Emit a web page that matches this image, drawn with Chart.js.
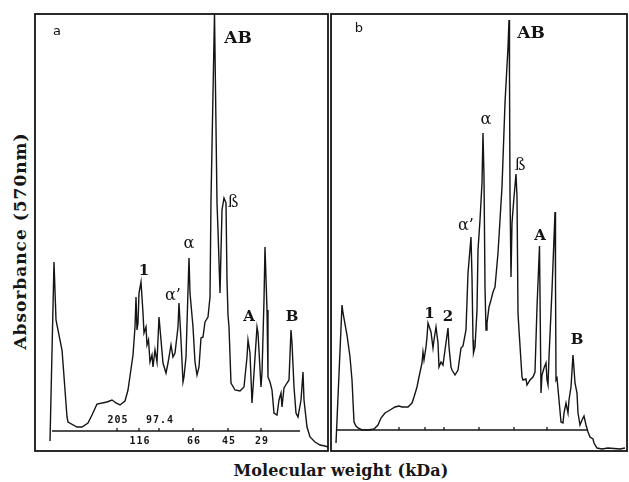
<!DOCTYPE html>
<html><head><meta charset="utf-8">
<script src="https://cdn.jsdelivr.net/npm/chart.js@4/dist/chart.umd.min.js"></script>
<style>
html,body{margin:0;padding:0;background:#fff;}
#wrap{position:relative;width:629px;height:482px;overflow:hidden;background:#fff;}
canvas{position:absolute;}
#ca{left:34px;top:13px;}
#cb{left:330px;top:13px;}
.ttl{position:absolute;font-family:"DejaVu Serif",serif;font-weight:bold;color:#161616;white-space:nowrap;}
#ytitle{left:20px;top:241px;font-size:17px;letter-spacing:1px;transform:translate(-50%,-50%) rotate(-90deg);}
#xtitle{left:341px;top:470px;font-size:16px;letter-spacing:0.1px;transform:translate(-50%,-50%);}
</style>
</head><body>
<div id="wrap">
<canvas id="ca" width="295" height="439"></canvas>
<canvas id="cb" width="298" height="439"></canvas>
<div class="ttl" id="ytitle">Absorbance (570nm)</div>
<div class="ttl" id="xtitle">Molecular weight (kDa)</div>
</div>
<script>
// ---- Panel a : densitometric scan (migration distance vs absorbance, arbitrary units)
const aDistance = [15,19,21,27,28,32,33,42,47,53,57,62,72,77,81,85,90,93,97,98,100,101,102,103,104,106,108,109,111,112,113.5,115,117,118,120,122,124,126,128,131,133,136,138,140,143,144,146,148,149,151,154,155,158,160,162,164,166,168,170,173,175,176,179.5,182,183,185,187,189,191,192,193,194,196,200,205,209,212,213,215,217,219,222,223,226,227,229,230,232,233,235,237,239,242,244,246,247,249,252,254,256,257,259,261,263,266,268,269,272,275,280,285,290,293];
const aAbsorbance = [10,189,131,101,88,34,29,24,24,28,36,47,49,51,48,46,50,61,89,96,124,154,121,128,158,169,138,118,124,106,111,89,96,84,101,89,134,111,88,78,88,106,94,98,124,148,111,69,74,94,193,158,124,89,76,84,113,114,129,134,154,251,438,248,221,158,241,253,248,171,136,124,68,61,60,64,94,111,98,48,78,124,118,64,78,151,204,141,74,69,61,38,36,51,58,44,63,68,71,121,108,64,38,34,51,79,51,24,14,9,6,5,4];
// ---- Panel b
const bDistance = [5,11,12,16,19,21,23,25,27,31,37,43,47,50,54,59,64,68,71,77,81,83,86,88,91,92,93,95,96,97,100,102,103,105,107,108,110,112,114,117,118,120,121,124,127,130,132,135,137,140,141,142,142.5,144,146,147,149,151,152,153,154,155,156,158,160,162,164,167,171,174,177,178,178.5,179,180,181,183,185,186,187,188,191,192,195,196,199,202,204,206,208.5,210,211,213,215,216,217,218,221,224,224.5,225,226,228,230,232,233,235,237,238,240,242,244,246,247,249,251,253,255,257,259,262,263,266,271,277,289,294];
const bAbsorbance = [8,146,138,116,94,71,29,25,23,21,21,22,26,33,38,41,44,45,44,44,48,54,64,74,88,99,91,104,114,128,119,103,111,124,108,84,89,86,101,123,104,84,81,76,81,103,105,121,178,214,174,111,98,104,141,201,231,268,318,274,164,121,128,144,151,159,164,198,264,348,404,431,374,258,174,228,254,277,254,138,121,74,71,72,66,71,74,79,144,205,58,76,83,88,71,66,94,161,239,171,71,73,51,29,28,38,48,38,51,64,96,68,58,38,26,31,35,26,19,14,12,8,3,2,3,2,3];

// ---- Molecular-weight markers (kDa) and their migration distance
const markerKDa = ['205','116','97.4','66','45','29'];
const markerDistanceA = [82,104,124,158,193,226];
const markerDistanceB = [68,94,113,148,183,216];
const baselineA = [17,265];   // start / end distance of the marker scale line
const baselineB = [6,256];
const baselineLevelA = 20, baselineLevelB = 21;

// ---- Band names
const peakNamesA = ['1','α’','α','AB','ß','A','B'];
const peakXA = [109,138,154,203,198,214,257];
const peakYA = [180,155,207,412,248,134,134];
const peakNamesB = ['1','2','α’','α','AB','ß','A','B'];
const peakXB = [98.5,117,135,155,200,189,209,246];
const peakYB = [137,134,225,331,417,285,215,111];

const INK = '#141414';

const decor = {
  id: 'decor',
  afterDatasetsDraw(chart, args, o) {
    const {ctx, chartArea: ca, scales: {x, y}} = chart;
    ctx.save();
    ctx.strokeStyle = INK; ctx.fillStyle = INK;
    // frame
    ctx.lineWidth = 1.8;
    ctx.strokeRect(ca.left, ca.top, ca.right - ca.left, ca.bottom - ca.top);
    // marker ticks
    ctx.lineWidth = 1.3;
    const by = y.getPixelForValue(o.level);
    o.ticks.forEach(d => {
      const px = x.getPixelForValue(d);
      ctx.beginPath(); ctx.moveTo(px, by); ctx.lineTo(px, by - 3); ctx.stroke();
    });
    // marker labels
    if (o.labels) {
      ctx.font = 'bold 10px "DejaVu Sans Mono", monospace';
      ctx.letterSpacing = '1px';
      ctx.textAlign = 'center'; ctx.textBaseline = 'middle';
      o.labels.forEach((t, i) => {
        const px = x.getPixelForValue(o.ticks[i]) + 1;
        const above = (i === 0 || i === 2);
        ctx.fillText(t, px, above ? by - 11 : by + 10);
      });
      ctx.letterSpacing = '0px';
    }
    // band names
    ctx.textAlign = 'center'; ctx.textBaseline = 'middle';
    o.names.forEach((t, i) => {
      const isGreek = /[αß]/.test(t);
      ctx.font = (t === 'AB') ? 'bold 17px "DejaVu Serif", serif'
               : isGreek ? '16px "DejaVu Serif", serif'
               : 'bold 15px "DejaVu Serif", serif';
      ctx.fillText(t, x.getPixelForValue(o.nx[i]), y.getPixelForValue(o.ny[i]));
    });
    // panel letter
    ctx.font = '13px "DejaVu Sans", sans-serif';
    ctx.fillText(o.panel, x.getPixelForValue(o.px), y.getPixelForValue(o.py));
    ctx.restore();
  }
};

function makeChart(id, dist, abs, base, level, xmax, decorOpts) {
  const trace = dist.map((d, i) => ({x: d, y: abs[i]}));
  const baseLine = base.map(d => ({x: d, y: level}));
  return new Chart(document.getElementById(id), {
    type: 'line',
    data: {datasets: [
      {data: trace, borderColor: INK, borderWidth: 1.4, pointRadius: 0, tension: 0, fill: false},
      {data: baseLine, borderColor: INK, borderWidth: 1.5, pointRadius: 0, tension: 0, fill: false}
    ]},
    options: {
      responsive: false, animation: false, events: [],
      layout: {padding: 1},
      scales: {
        x: {type: 'linear', min: 0, max: xmax, display: false},
        y: {type: 'linear', min: 0, max: 437, display: false}
      },
      plugins: {legend: {display: false}, tooltip: {enabled: false}, decor: decorOpts}
    },
    plugins: [decor]
  });
}

makeChart('ca', aDistance, aAbsorbance, baselineA, baselineLevelA, 293,
  {level: baselineLevelA, ticks: markerDistanceA, labels: markerKDa,
   names: peakNamesA, nx: peakXA, ny: peakYA, panel: 'a', px: 22, py: 419});
makeChart('cb', bDistance, bAbsorbance, baselineB, baselineLevelB, 296,
  {level: baselineLevelB, ticks: markerDistanceB, labels: null,
   names: peakNamesB, nx: peakXB, ny: peakYB, panel: 'b', px: 28, py: 422});
</script>
</body></html>
